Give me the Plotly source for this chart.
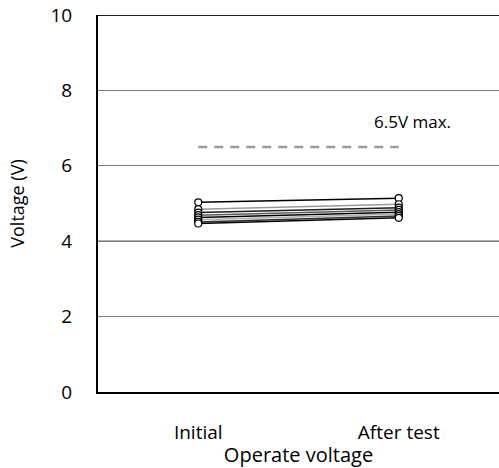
import plotly.graph_objects as go

categories = ["Initial", "After test"]
initial_values = [5.03, 4.85, 4.76, 4.69, 4.63, 4.57, 4.51, 4.47]
after_values = [5.14, 4.98, 4.89, 4.83, 4.77, 4.72, 4.67, 4.62]
line_colors = ["#000000", "#9a9a9a", "#1a1a1a", "#5a5a5a", "#000000", "#b0b0b0", "#303030", "#000000"]
limit_values = [6.5, 6.5]
limit_label = "6.5V max."
y_ticks = [0, 2, 4, 6, 8, 10]

FONT = "Open Sans"

fig = go.Figure()

fig.add_trace(go.Scatter(
    x=categories, y=limit_values, mode="lines",
    line=dict(color="#9a9a9a", width=2.5, dash="9px,7px"),
    showlegend=False, hoverinfo="skip"))

for i in range(len(initial_values)):
    fig.add_trace(go.Scatter(
        x=categories, y=[initial_values[i], after_values[i]],
        mode="lines+markers",
        line=dict(color=line_colors[i], width=1.5),
        marker=dict(symbol="circle", size=7, color="white",
                    line=dict(color="black", width=1.2)),
        showlegend=False))

fig.add_annotation(x=0.785, xref="paper", xanchor="center", y=7.17, yref="y",
                   yanchor="middle", text=limit_label,
                   showarrow=False, font=dict(family=FONT, size=17, color="black"))

fig.add_shape(type="line", xref="paper", x0=0, x1=1, yref="y", y0=4, y1=4,
              line=dict(color="black", width=1), layer="between")

fig.update_layout(
    width=499, height=468,
    margin=dict(l=98, r=0, t=15, b=76),
    paper_bgcolor="white", plot_bgcolor="white",
    font=dict(family=FONT, size=18, color="black"),
    xaxis=dict(
        type="category", range=[-0.5, 1.5],
        showline=True, linecolor="black", linewidth=2,
        showgrid=False, ticks="", ticklabelstandoff=22,
        tickfont=dict(family=FONT, size=19),
        title=dict(text="Operate voltage", standoff=2,
                   font=dict(family=FONT, size=20))),
    yaxis=dict(
        range=[0, 10], tickvals=y_ticks,
        showline=True, linecolor="black", linewidth=2,
        showgrid=True, gridcolor="#808080", gridwidth=1,
        zeroline=False, ticks="", ticklabelstandoff=20,
        tickfont=dict(family=FONT, size=19),
        title=dict(text="Voltage (V)", standoff=21,
                   font=dict(family=FONT, size=18))),
)

fig.add_shape(type="line", xref="paper", x0=0, x1=1, yref="y", y0=10, y1=10,
              line=dict(color="#222222", width=2))

fig.write_html("out.html")
